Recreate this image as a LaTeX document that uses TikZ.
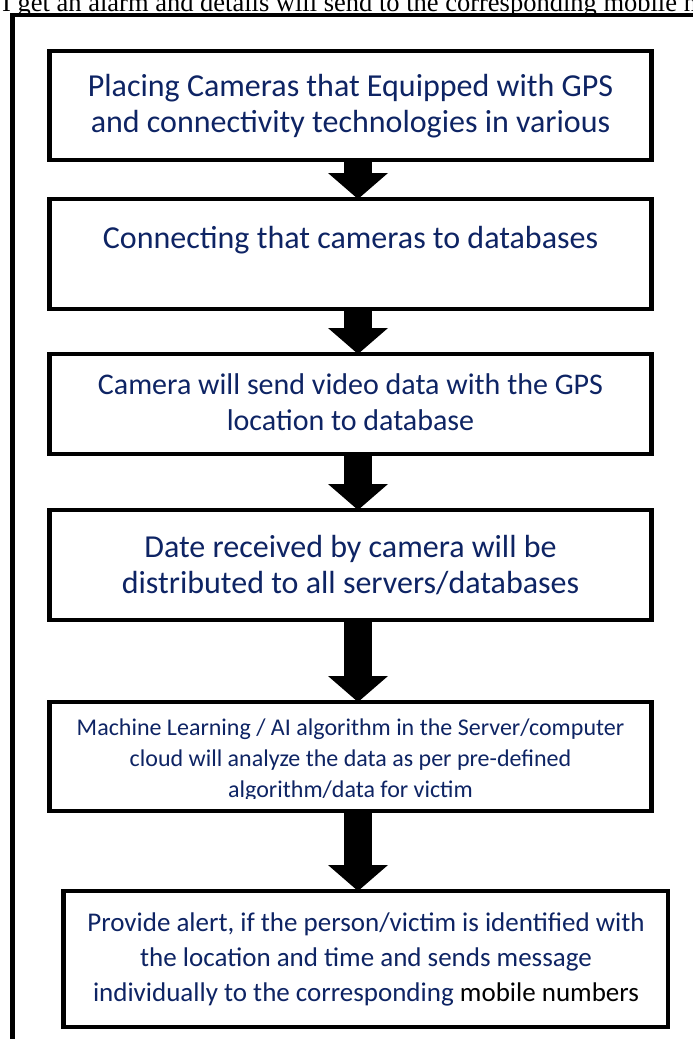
\documentclass[tikz,border=0pt]{standalone}
\usepackage{fontspec}
\setmainfont{Liberation Serif}
\newfontfamily\calfont{Carlito}
\usetikzlibrary{arrows.meta}
\definecolor{navy}{RGB}{14,36,100}
\begin{document}
\begin{tikzpicture}[x=1pt,y=-1pt,
  box/.style={draw=black,line width=4.5pt,minimum width=602pt,inner sep=0pt,outer sep=0pt},
  txtA/.style={font=\calfont\fontsize{32}{37}\selectfont,text=navy,inner sep=0pt,anchor=base},
  txtB/.style={font=\calfont\fontsize{30}{36}\selectfont,text=navy,inner sep=0pt,anchor=base},
  txtC/.style={font=\calfont\fontsize{24}{31}\selectfont,text=navy,inner sep=0pt,anchor=base},
  txtD/.style={font=\calfont\fontsize{27}{35}\selectfont,text=navy,inner sep=0pt,anchor=base},
  flow/.style={line width=28pt,-{Triangle[width=60pt,length=26pt,line width=0pt]}}]
\useasboundingbox (0,0) rectangle (693,1039);
\clip (0,0) rectangle (693,1039);
\fill[white] (0,0) rectangle (693,1039);
% heading text (cut at the top edge)
\node[font=\fontsize{26.5}{30}\selectfont,anchor=base west,inner sep=0pt] (title) at (2,11) {I get an alarm and details will send to the corresponding mobile numbers};
% outer frame
\node[draw=black,line width=4.5pt,minimum width=800pt,minimum height=1100pt,inner sep=0pt,outer sep=0pt,anchor=north west] (frame) at (12.5,15) {};
% boxes
\node[box,minimum height=109pt] (b1) at (350.5,105.5) {};
\node[box,minimum height=110pt] (b2) at (350.5,254) {};
\node[box,minimum height=100pt] (b3) at (350.5,404) {};
\node[box,minimum height=110pt] (b4) at (350.5,565) {};
\node[box,minimum height=109pt] (b5) at (350.5,756.5) {};
\node[box,minimum width=604.5pt,minimum height=136pt] (b6) at (365.75,959) {};
% texts
\node[txtA] (t1a) at (350.5,96) {Placing Cameras that Equipped with GPS};
\node[txtA] (t1b) at (350.5,132) {and connectivity technologies in various};
\node[txtA] (t2) at (350.5,248) {Connecting that cameras to databases};
\node[txtB] (t3a) at (350.5,394) {Camera will send video data with the GPS};
\node[txtB] (t3b) at (350.5,430) {location to database};
\node[txtA] (t4a) at (350.5,557) {Date received by camera will be};
\node[txtA] (t4b) at (350.5,593) {distributed to all servers/databases};
\begin{scope}
\clip (52,705) rectangle (649,798);
\node[txtC] (t5a) at (350.5,735) {Machine Learning / AI algorithm in the Server/computer};
\node[txtC] (t5b) at (350.5,766) {cloud will analyze the data as per pre-defined};
\node[txtC] (t5c) at (350.5,797) {algorithm/data for victim};
\end{scope}
\node[txtD] (t6a) at (366,931) {Provide alert, if the person/victim is identified with};
\node[txtD] (t6b) at (366,966) {the location and time and sends message};
\node[txtD] (t6c) at (366,1001) {individually to the corresponding \textcolor{black}{mobile numbers}};
% arrows
\coordinate (ax) at (358,0);
\draw[flow] (b1.south -| ax) -- (b2.north -| ax);
\draw[flow] (b2.south -| ax) -- (b3.north -| ax);
\draw[flow] (b3.south -| ax) -- (b4.north -| ax);
\draw[flow] (b4.south -| ax) -- (b5.north -| ax);
\draw[flow] (b5.south -| ax) -- (b6.north -| ax);
\end{tikzpicture}
\end{document}
